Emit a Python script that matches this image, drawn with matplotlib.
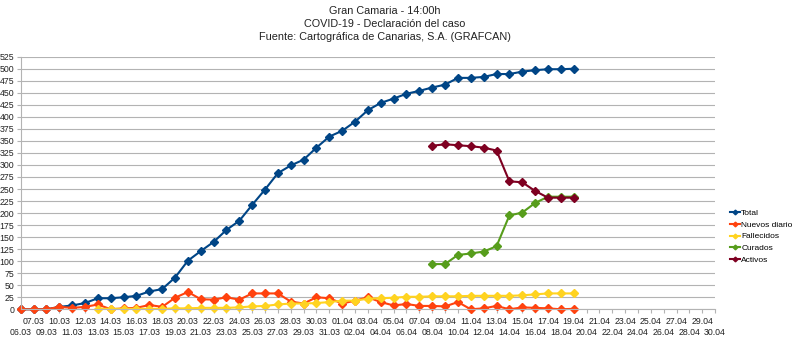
"""
Gran Canaria COVID-19 evolution chart (Total / nuevos / fallecidos / curados / activos).
"""
import numpy as np
import matplotlib
matplotlib.use("Agg")
import matplotlib.pyplot as plt

plt.rcParams["font.family"] = ["Liberation Sans", "DejaVu Sans"]

# categories (08.03 is not in the source table)
dates = (["06.03", "07.03"] + [f"{d:02d}.03" for d in range(9, 32)]
         + [f"{d:02d}.04" for d in range(1, 31)])

total = [0, 0, 0, 5, 8, 13, 23, 23, 25, 28, 37, 42, 66, 101, 121, 140, 165, 184,
         217, 249, 283, 299, 311, 336, 359, 371, 390, 414, 429, 438, 448, 454,
         461, 467, 481, 481, 483, 489, 489, 494, 497, 499, 499, 500]
nuevos = [0, 0, 0, 5, 3, 5, 10, 0, 2, 3, 9, 5, 24, 36, 21, 20, 25, 20, 33, 33,
          33, 16, 12, 25, 23, 12, 18, 25, 15, 8, 11, 7, 7, 6, 15, 0, 2, 7, 0, 4,
          3, 2, 0, 1]
fallecidos_start = 6
fallecidos = [1, 1, 1, 1, 1, 1, 2, 2, 3, 3, 3, 4, 6, 7, 10, 12, 12, 13, 15, 18,
              18, 22, 23, 24, 26, 26, 27, 27, 27, 28, 28, 28, 28, 29, 31, 33, 33, 33]
curados_start = 32
curados = [94, 94, 113, 116, 120, 131, 195, 201, 221, 234, 234, 234]
activos_start = 32
activos = [340, 343, 341, 339, 336, 330, 266, 264, 246, 232, 232, 232]

COLORS = {"Total": "#004586", "Nuevos diario": "#ff420e", "Fallecidos": "#ffd320",
          "Curados": "#579d1c", "Activos": "#7e0021"}
GRID = "#b3b3b3"
TEXT = "#222222"

fig = plt.figure(figsize=(8, 3.4), dpi=100)
ax = fig.add_axes([0.0259, 0.0903, 0.868, 0.7429])

series = [("Total", 0, total), ("Nuevos diario", 0, nuevos),
          ("Fallecidos", fallecidos_start, fallecidos),
          ("Curados", curados_start, curados), ("Activos", activos_start, activos)]
for name, start, vals in series:
    x = np.arange(start, start + len(vals))
    ax.plot(x, vals, color=COLORS[name], linewidth=1.5, marker="D",
            markersize=4, label=name, clip_on=False)

ax.set_xlim(0, len(dates) - 1)
ax.set_ylim(0, 525)
ax.set_yticks(np.arange(0, 526, 25))

# staggered category labels: odd ones on the upper row, even ones below
idx = np.arange(len(dates))
ax.set_xticks(idx[1::2], [dates[i] for i in idx[1::2]])
ax.set_xticks(idx[0::2], [dates[i] for i in idx[0::2]], minor=True)
ax.tick_params(axis="both", which="both", labelsize=6.3, colors=GRID,
               labelcolor=TEXT, length=3, width=0.8, pad=2.5)
ax.tick_params(axis="y", pad=1.5)
ax.tick_params(axis="x", which="minor", pad=10.5)
ax.grid(True, axis="y", color=GRID, linewidth=0.8)
ax.set_axisbelow(True)
for s in ["top", "right"]:
    ax.spines[s].set_visible(False)
for s in ["left", "bottom"]:
    ax.spines[s].set_color(GRID)
    ax.spines[s].set_linewidth(0.8)

fig.text(0.481, 1 - 11 / 340, "Gran Camaria - 14:00h", ha="center", va="center",
         fontsize=7.8, color=TEXT)
fig.text(0.481, 1 - 24 / 340, "COVID-19 - Declaración del caso", ha="center",
         va="center", fontsize=7.8, color=TEXT)
fig.text(0.481, 1 - 37 / 340, "Fuente: Cartográfica de Canarias, S.A. (GRAFCAN)",
         ha="center", va="center", fontsize=7.8, color=TEXT)

fig.legend(loc="upper left", bbox_to_anchor=(0.913, 1 - 209 / 340), frameon=False,
           fontsize=6, handlelength=1.1, handletextpad=0.2, labelspacing=0.48,
           borderpad=0, borderaxespad=0, markerscale=0.6)

fig.savefig("out.png", dpi=100)
